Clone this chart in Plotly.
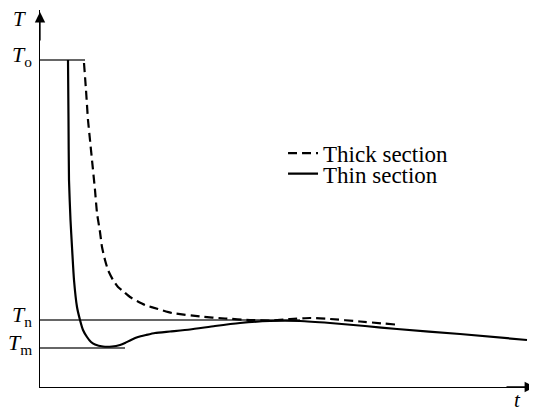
import plotly.graph_objects as go

# Thick section (dashed)
thick_t = [44, 46, 48, 50, 52, 55, 57, 60, 62, 65, 68, 73, 78, 84, 90, 97, 105, 118, 132,
           160, 185, 210, 230, 250, 270, 290, 320, 355]
thick_T = [324, 297, 267, 247, 227, 197, 174, 155, 140, 127, 117, 107, 100, 95, 90, 86, 82, 78, 74,
           70.5, 68.5, 67, 66.5, 68, 69, 68, 65.5, 62.5]

# Thin section (solid)
thin_t = [28, 28.5, 29, 30.5, 32, 34, 37, 40, 43, 47, 51, 55, 63, 72, 80, 85, 91, 98, 106, 115,
          130, 150, 175, 200, 230, 260, 290, 325, 357, 420, 487]
thin_T = [327, 267, 207, 167, 140, 107, 80, 67, 57, 50, 45, 42.5, 40.5, 40.5, 42, 44, 47, 50, 52, 54,
          55.5, 57.5, 61, 64, 66, 66, 64, 61, 58, 53, 47]

# Reference levels: label, level, end of guide line
level_labels = ["<i>T</i><sub>o</sub>", "<i>T</i><sub>n</sub>", "<i>T</i><sub>m</sub>"]
level_values = [327, 67, 39]
level_ends = [45, 260, 85]

series_names = ["Thick section", "Thin section"]

FONT = "Liberation Serif, Times New Roman, serif"
X_MAX, Y_MAX = 497, 377

fig = go.Figure()

for lab, val, end in zip(level_labels, level_values, level_ends):
    fig.add_trace(go.Scatter(x=[0, end], y=[val, val], mode="lines",
                             line=dict(color="#333333", width=1.3),
                             showlegend=False, hoverinfo="skip"))

fig.add_trace(go.Scatter(x=thick_t, y=thick_T, mode="lines", name=series_names[0], legend="legend",
                         line=dict(color="black", width=2.2, dash="9px,5px", shape="spline", smoothing=0.5)))
fig.add_trace(go.Scatter(x=thin_t, y=thin_T, mode="lines", name=series_names[1], legend="legend2",
                         line=dict(color="black", width=2.2, shape="spline", smoothing=0.5)))

annotations = []
for lab, val in zip(level_labels, level_values):
    annotations.append(dict(x=-6 / X_MAX, y=val / Y_MAX, xref="paper", yref="paper", text=lab,
                            showarrow=False, xanchor="right", yanchor="middle", yshift=4,
                            font=dict(family=FONT, size=22, color="black")))
# axis arrows
annotations.append(dict(x=(X_MAX - 2) / X_MAX, y=0, ax=-30, ay=0, xref="paper", yref="paper",
                        text="", showarrow=True, arrowhead=2, arrowsize=1.6, arrowwidth=1.3,
                        arrowcolor="black", standoff=0))
annotations.append(dict(x=0, y=(Y_MAX - 2) / Y_MAX, ax=0, ay=30, xref="paper", yref="paper",
                        text="", showarrow=True, arrowhead=2, arrowsize=1.6, arrowwidth=1.3,
                        arrowcolor="black", standoff=0))
# axis titles
annotations.append(dict(x=-21 / X_MAX, y=368 / Y_MAX, xref="paper", yref="paper", text="<i>T</i>",
                        showarrow=False, xanchor="center", yanchor="middle",
                        font=dict(family=FONT, size=21, color="black")))
annotations.append(dict(x=477 / X_MAX, y=-27 / Y_MAX, xref="paper", yref="paper", text="<i>t</i>",
                        showarrow=False, xanchor="center", yanchor="bottom",
                        font=dict(family=FONT, size=21, color="black")))

legend_style = dict(xanchor="left", yanchor="top", font=dict(family=FONT, size=23, color="black"),
                    bgcolor="rgba(0,0,0,0)", itemwidth=30)

fig.update_layout(
    width=529, height=406,
    margin=dict(l=32, r=0, t=2, b=27),
    font=dict(family=FONT, color="black"),
    plot_bgcolor="white", paper_bgcolor="white",
    showlegend=True,
    legend=dict(x=0.489, y=0.677, **legend_style),
    legend2=dict(x=0.489, y=0.623, **legend_style),
    annotations=annotations,
    xaxis=dict(range=[0, X_MAX], showgrid=False, zeroline=False, showticklabels=False,
               ticks="", showline=True, linecolor="black", linewidth=1.3, fixedrange=True),
    yaxis=dict(range=[0, Y_MAX], showgrid=False, zeroline=False, showticklabels=False,
               ticks="", showline=True, linecolor="black", linewidth=1.3, fixedrange=True),
)

fig.write_html("out.html")
